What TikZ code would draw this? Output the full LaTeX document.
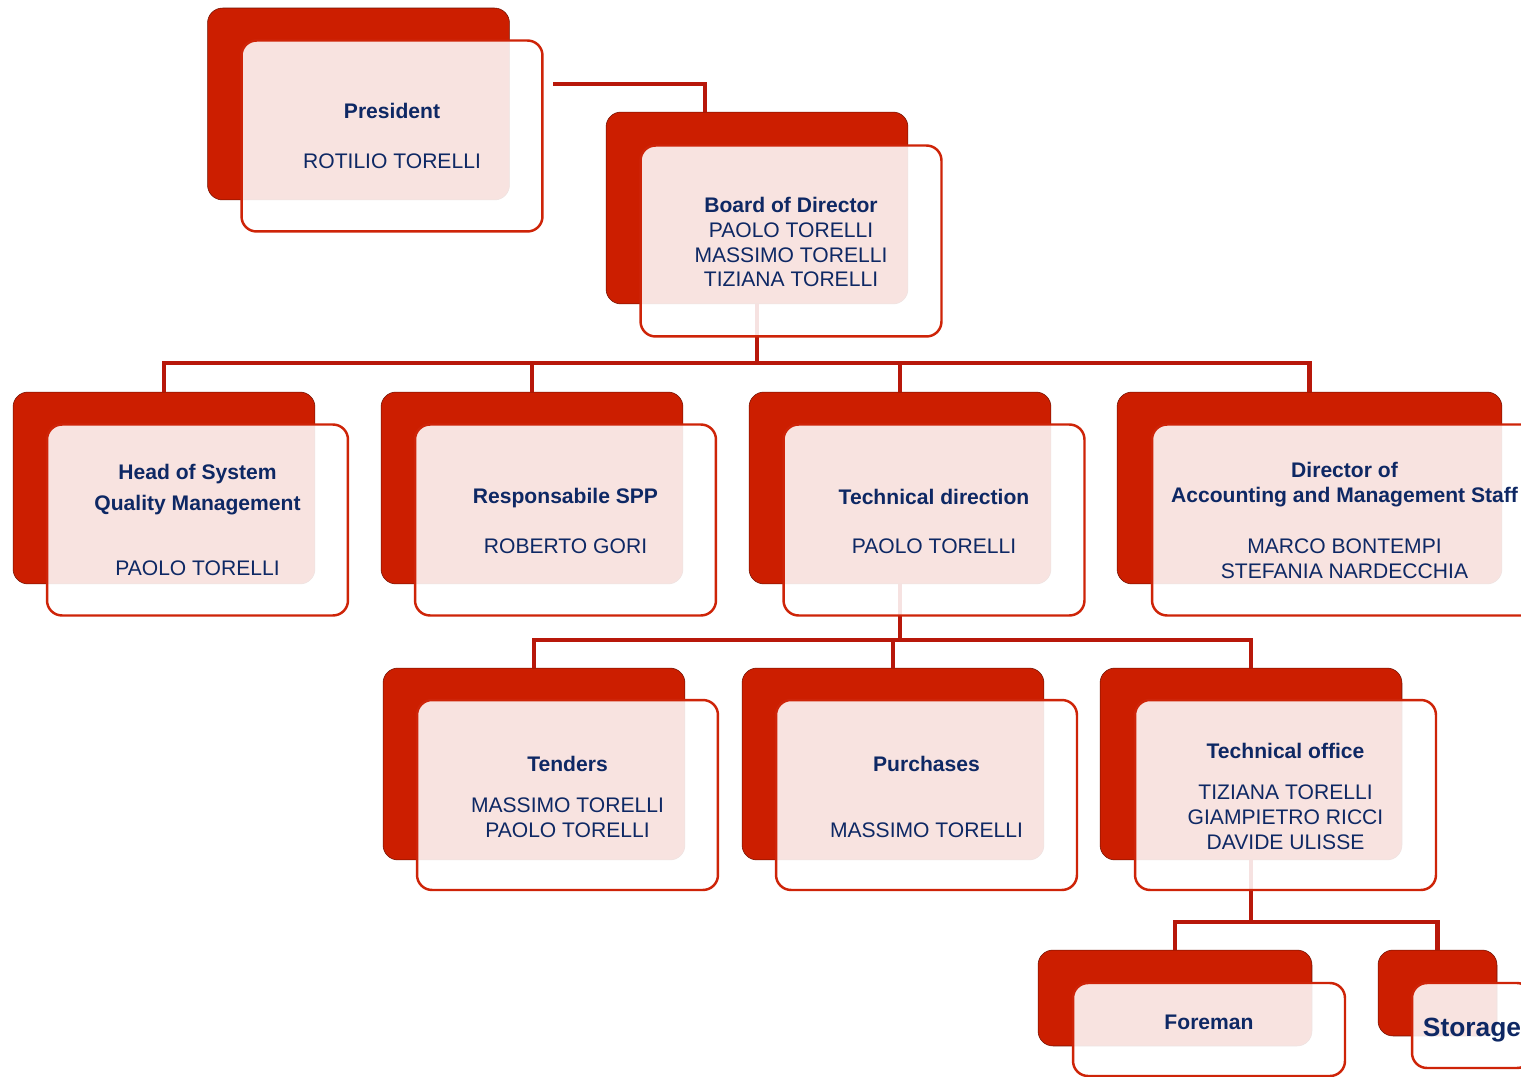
\documentclass[tikz,border=0pt]{standalone}
\usepackage{fontspec}
\setmainfont{Liberation Sans}
\definecolor{backred}{RGB}{204,30,0}
\definecolor{framered}{RGB}{206,36,8}
\definecolor{linkred}{RGB}{184,24,10}
\definecolor{navy}{RGB}{14,40,100}
\begin{document}
\begin{tikzpicture}[x=0.02cm,y=-0.02cm,
  back/.style={rectangle,rounded corners=0.3cm,fill=backred,draw=backred!55!black,line width=0.3pt,minimum width=6.04cm,minimum height=3.84cm,outer sep=0pt},
  front/.style={rectangle,rounded corners=0.3cm,draw=framered,line width=1.4pt,fill=white,fill opacity=0.88,minimum width=6.02cm,minimum height=3.82cm},
  link/.style={draw=linkred,line width=2.6pt},
  txt/.style={text=navy,font=\fontsize{12}{14.2}\selectfont,align=center,anchor=base,inner sep=0pt},
  ttl/.style={txt,font=\fontsize{12}{14.2}\selectfont\bfseries}]
\useasboundingbox (0,0) rectangle (1521,1077);
\clip (0,0) rectangle (1521,1077);
\fill[white] (0,0) rectangle (1521,1077);
% back boxes
\node[back] (pres) at (358.5,104) {};
\node[back] (board) at (757,208) {};
\node[back] (head) at (164,488) {};
\node[back] (resp) at (532,488) {};
\node[back] (tdir) at (900,488) {};
\node[back,minimum width=7.7cm] (dacc) at (1309.5,488) {};
\node[back] (tend) at (534,764) {};
\node[back] (purch) at (893,764) {};
\node[back] (toff) at (1251,764) {};
\node[back,minimum width=5.48cm,minimum height=1.92cm] (fore) at (1175,998) {};
\node[back,minimum width=2.38cm,minimum height=1.72cm] (stor) at (1437.5,993) {};
% connectors
\coordinate (presOut) at (553,84);
\draw[link] (presOut) -| ([xshift=1.98cm]board.north west);
\coordinate (bar1) at (757,363);
\draw[link] (board.south) -- (bar1);
\draw[link] (head.north) |- (bar1) -| (dacc.north);
\draw[link] (resp.north) -- (resp.north |- bar1);
\draw[link] (tdir.north) -- (tdir.north |- bar1);
\coordinate (bar2) at (900,640);
\draw[link] (tdir.south) -- (bar2);
\draw[link] (tend.north) |- (bar2) -| (toff.north);
\draw[link] (purch.north) -- (purch.north |- bar2);
\coordinate (bar3) at (1251,922);
\draw[link] (toff.south) -- (bar3);
\draw[link] (fore.north) |- (bar3) -| (stor.north);
% front boxes
\node[front] (presF) at (392,136) {};
\node[front] (boardF) at (791,241) {};
\node[front] (headF) at (197.5,520) {};
\node[front] (respF) at (565.5,520) {};
\node[front] (tdirF) at (934,520) {};
\node[front,minimum width=7.7cm] (daccF) at (1344.5,520) {};
\node[front,minimum height=3.8cm] (tendF) at (567.5,795) {};
\node[front,minimum height=3.8cm] (purchF) at (926.5,795) {};
\node[front,minimum height=3.8cm] (toffF) at (1285.5,795) {};
\node[front,minimum width=5.44cm,minimum height=1.86cm] (foreF) at (1209,1029.5) {};
\node[front,minimum width=2.4cm,minimum height=1.7cm] (storF) at (1472,1025.5) {};
% texts
\node[ttl] (presT) at (392,119) {President};
\node[txt] (presN) at (392,169) {ROTILIO TORELLI};
\node[txt] (boardT) at (791,287) {\textbf{Board of Director}\\PAOLO TORELLI\\MASSIMO TORELLI\\TIZIANA TORELLI};
\node[ttl] (headT) at (197.5,511) {Head of System\\[3.9pt]Quality Management};
\node[txt] (headN) at (197.5,575) {PAOLO TORELLI};
\node[ttl] (respT) at (565.5,503) {Responsabile SPP};
\node[txt] (respN) at (565.5,553) {ROBERTO GORI};
\node[ttl] (tdirT) at (934,504) {Technical direction};
\node[txt] (tdirN) at (934,553) {PAOLO TORELLI};
\node[ttl] (daccT) at (1344.5,502) {Director of\\Accounting and Management Staff};
\node[txt] (daccN) at (1344.5,578) {MARCO BONTEMPI\\STEFANIA NARDECCHIA};
\node[ttl] (tendT) at (567.5,771) {Tenders};
\node[txt] (tendN) at (567.5,837) {MASSIMO TORELLI\\PAOLO TORELLI};
\node[ttl] (purchT) at (926.5,771) {Purchases};
\node[txt] (purchN) at (926.5,837) {MASSIMO TORELLI};
\node[ttl] (toffT) at (1285.5,758) {Technical office};
\node[txt] (toffN) at (1285.5,849) {TIZIANA TORELLI\\GIAMPIETRO RICCI\\DAVIDE ULISSE};
\node[ttl] (foreT) at (1209,1029) {Foreman};
\node[ttl,font=\fontsize{15}{18}\selectfont\bfseries] (storT) at (1472,1036) {Storage};
\end{tikzpicture}
\end{document}
